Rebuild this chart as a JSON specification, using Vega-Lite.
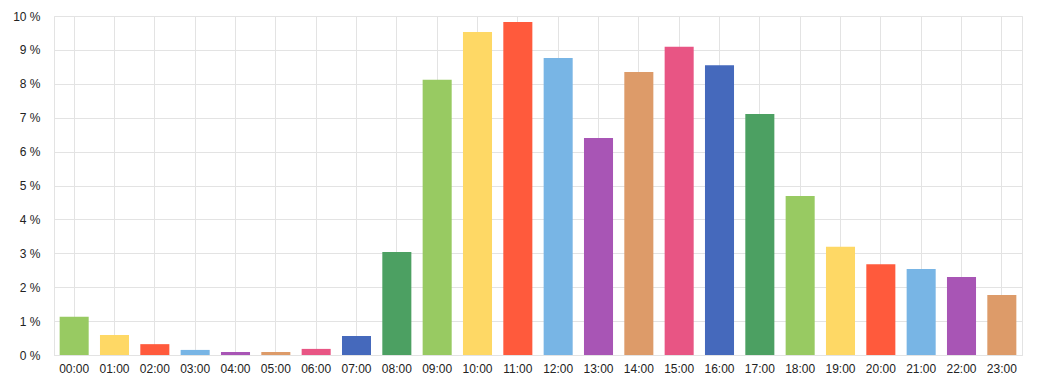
{
  "$schema": "https://vega.github.io/schema/vega-lite/v6.json",
  "width": 968,
  "height": 339,
  "autosize": {"type": "none"},
  "padding": {"left": 54, "top": 16, "right": 17, "bottom": 30},
  "background": "white",
  "config": {
    "view": {"stroke": "#e3e3e3", "strokeWidth": 1},
    "font": "Liberation Sans"
  },
  "data": {
    "values": [
      {"hour": "00:00", "pct": 1.13},
      {"hour": "01:00", "pct": 0.59},
      {"hour": "02:00", "pct": 0.32},
      {"hour": "03:00", "pct": 0.15},
      {"hour": "04:00", "pct": 0.09},
      {"hour": "05:00", "pct": 0.09},
      {"hour": "06:00", "pct": 0.18},
      {"hour": "07:00", "pct": 0.56},
      {"hour": "08:00", "pct": 3.04},
      {"hour": "09:00", "pct": 8.12},
      {"hour": "10:00", "pct": 9.53},
      {"hour": "11:00", "pct": 9.82},
      {"hour": "12:00", "pct": 8.76},
      {"hour": "13:00", "pct": 6.4},
      {"hour": "14:00", "pct": 8.35},
      {"hour": "15:00", "pct": 9.09},
      {"hour": "16:00", "pct": 8.55},
      {"hour": "17:00", "pct": 7.11},
      {"hour": "18:00", "pct": 4.69},
      {"hour": "19:00", "pct": 3.19},
      {"hour": "20:00", "pct": 2.68},
      {"hour": "21:00", "pct": 2.54},
      {"hour": "22:00", "pct": 2.3},
      {"hour": "23:00", "pct": 1.77}
    ]
  },
  "mark": {"type": "bar"},
  "encoding": {
    "x": {
      "field": "hour",
      "type": "nominal",
      "sort": null,
      "scale": {"paddingInner": 0.28, "paddingOuter": 0.14},
      "axis": {
        "title": null,
        "labelAngle": 0,
        "ticks": false,
        "domain": true,
        "domainColor": "#e3e3e3",
        "grid": true,
        "gridColor": "#e3e3e3",
        "labelFontSize": 12,
        "labelColor": "#222222",
        "labelPadding": 8
      }
    },
    "y": {
      "field": "pct",
      "type": "quantitative",
      "scale": {"domain": [0, 10], "nice": false},
      "axis": {
        "title": null,
        "values": [0, 1, 2, 3, 4, 5, 6, 7, 8, 9, 10],
        "labelExpr": "datum.value + ' %'",
        "ticks": false,
        "domain": false,
        "grid": true,
        "gridColor": "#e3e3e3",
        "labelFontSize": 12,
        "labelColor": "#222222",
        "labelPadding": 14
      }
    },
    "color": {
      "field": "hour",
      "type": "nominal",
      "sort": null,
      "legend": null,
      "scale": {
        "range": [
          "#98CA62", "#FED865", "#FF5A3C", "#78B5E5", "#A855B5", "#DD9B69", "#E85584", "#4569BC", "#4CA062",
          "#98CA62", "#FED865", "#FF5A3C", "#78B5E5", "#A855B5", "#DD9B69", "#E85584", "#4569BC", "#4CA062",
          "#98CA62", "#FED865", "#FF5A3C", "#78B5E5", "#A855B5", "#DD9B69"
        ]
      }
    }
  }
}
